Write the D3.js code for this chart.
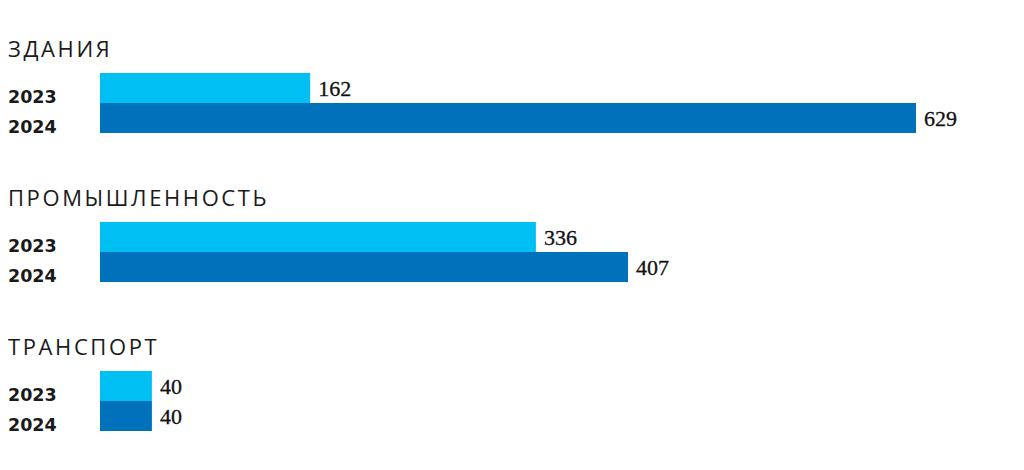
<!DOCTYPE html>
<html>
<head>
<meta charset="utf-8">
<script src="https://cdn.jsdelivr.net/npm/d3@7"></script>
<style>
  body { margin: 0; background: #fff; }
  svg { display: block; }
</style>
</head>
<body>
<svg id="chart"></svg>
<script>
const width = 1024;
const height = 470;

// data
const categories = ["ЗДАНИЯ", "ПРОМЫШЛЕННОСТЬ", "ТРАНСПОРТ"];
const years = ["2023", "2024"];
const values2023 = [162, 336, 40];
const values2024 = [629, 407, 40];

const colors = { "2023": "#00bff3", "2024": "#0072bc" };

const svg = d3.select("#chart")
    .attr("width", width)
    .attr("height", height);

//group positions
var yGroup = d3.scaleBand()
    .domain(categories)
    .range([40, 40 + 3 * 149]);

var yYear = d3.scaleBand()
    .domain(years)
    .range([0, 60]);

var x = d3.scaleLinear()
    .domain([0, 629])
    .range([100, 916]);

var rows = [];
categories.forEach((c, i) => {
    rows.push({ cat: c, year: "2023", value: values2023[i] });
    rows.push({ cat: c, year: "2024", value: values2024[i] });
});

var groups = svg.selectAll("g.group")
    .data(categories)
    .enter().append("g")
    .attr("class", "group")
    .attr("transform", d => `translate(0, ${yGroup(d)})`);

groups.append("text")
    .attr("x", 8)
    .attr("y", 17)
    .attr("font-family", "Open Sans, sans-serif")
    .attr("font-size", 22)
    .attr("letter-spacing", 2.6)
    .attr("fill", "#1a1a1a")
    .text(d => d);

var bars = svg.selectAll("g.row")
    .data(rows)
    .enter().append("g")
    .attr("class", "row")
    .attr("transform", d => `translate(0, ${yGroup(d.cat) + 33 + yYear(d.year)})`);

bars.append("rect")
    .attr("x", x(0))
    .attr("y", 0)
    .attr("width", d => x(d.value) - x(0))
    .attr("height", yYear.bandwidth())
    .attr("fill", d => colors[d.year]);

bars.append("text")
    .attr("x", 8)
    .attr("y", 30)
    .attr("font-family", "DejaVu Sans, sans-serif")
    .attr("font-weight", "bold")
    .attr("font-size", 17.5)
    .attr("fill", "#1a1a1a")
    .text(d => d.year);

bars.append("text")
    .attr("x", d => x(d.value) + 8)
    .attr("y", yYear.bandwidth() / 2)
    .attr("dy", "0.35em")
    .attr("font-family", "Liberation Serif, serif")
    .attr("font-size", 22)
    .attr("fill", "#111")
    .attr("stroke", "#111")
    .attr("stroke-width", 0.3)
    .text(d => d.value);
</script>
</body>
</html>
